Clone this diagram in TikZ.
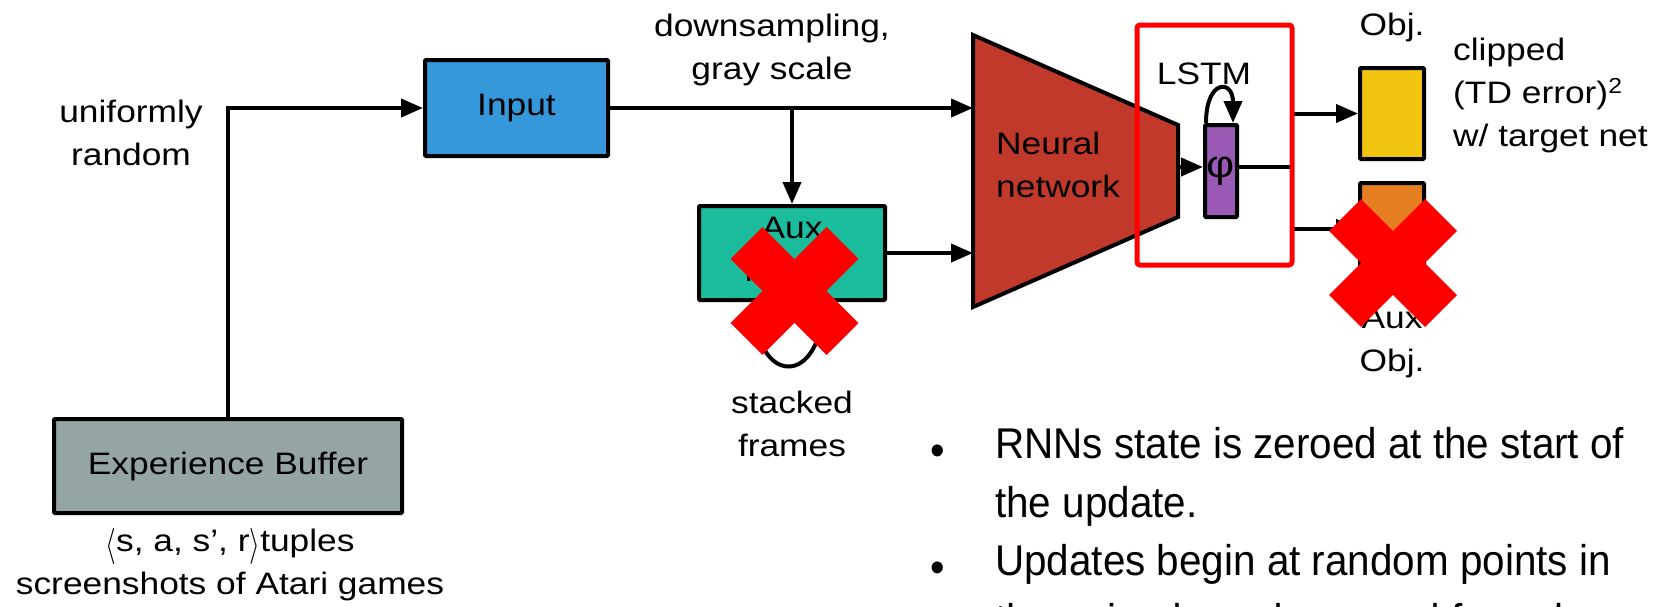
\documentclass[tikz,border=0pt]{standalone}
\usepackage{fontspec}
\usepackage{graphicx}
\setmainfont{Liberation Sans}
\newfontfamily\labelfont{Liberation Sans}[FakeStretch=1.14]
\newfontfamily\bulletfont{Liberation Sans}[FakeStretch=0.94]
\usetikzlibrary{arrows.meta}
\definecolor{cinput}{HTML}{3498DB}
\definecolor{caux}{HTML}{1ABC9C}
\definecolor{cbuf}{HTML}{95A5A6}
\definecolor{cnn}{HTML}{C0392B}
\definecolor{cphi}{HTML}{9B59B6}
\definecolor{cyellow}{HTML}{F1C40F}
\definecolor{corange}{HTML}{E67E22}
\definecolor{cxred}{HTML}{FF0000}
\newcommand{\tallangle}[1]{\raisebox{-0.12em}{\scalebox{1.1}[1.45]{$#1$}}}
\begin{document}
\begin{tikzpicture}[x=1pt,y=-1pt,
  lbl/.style={font=\labelfont\fontsize{31}{43}\selectfont, inner sep=0pt, align=center},
  blt/.style={font=\bulletfont\fontsize{43}{58}\selectfont, inner sep=0pt},
  dotb/.style={font=\bulletfont\fontsize{44}{44}\selectfont, inner sep=0pt},
  box/.style={draw=black, line width=4pt, inner sep=0pt, rounded corners=1pt,
    font=\labelfont\fontsize{31}{43}\selectfont, align=center},
  conn/.style={line width=4pt, -{Triangle[length=22pt,width=18pt]}},
  plainline/.style={line width=4pt},
  cross/.style={draw=cxred, line width=45pt},
  redframe/.style={draw=cxred, line width=5pt, rounded corners=3pt, inner sep=0pt}]
\useasboundingbox (0,0) rectangle (1663,606);

% boxes
\node[box, fill=cinput, minimum width=183pt, minimum height=96pt] (input) at (516.5,108) {Input};
\node[box, fill=caux, minimum width=186pt, minimum height=94pt] (aux) at (792,253) {Aux\\inputs};
\node[box, fill=cbuf, minimum width=348pt, minimum height=94pt] (buffer) at (228,466) {Experience Buffer};

% neural network trapezoid
\draw[line width=4pt, fill=cnn, line join=miter] (973,35) -- (1178,125) -- (1178,217) -- (973,307) -- cycle;
\coordinate (nnin1) at (973,108);
\coordinate (nnin2) at (973,253);
\coordinate (nnout) at (1178,167);
\node[lbl, align=left, anchor=west] (nnlabel) at (996,165) {Neural\\network};

\node[box, fill=cphi, minimum width=32pt, minimum height=92pt, font=\labelfont\fontsize{38}{38}\selectfont] (phi) at (1221,171) {φ};
\node[box, fill=cyellow, minimum width=64pt, minimum height=91pt] (obj) at (1392,113.5) {};
\node[box, fill=corange, minimum width=64pt, minimum height=91pt] (auxobj) at (1392,228.5) {};

% connectors
\draw[conn] (buffer.north) |- (input.west);
\draw[conn] (input.east) -- (nnin1);
\coordinate (split) at (aux.north |- input.east);
\draw[conn] (split) -- (aux.north);
\draw[conn] (aux.east) -- (nnin2);
\draw[conn] (nnout) -- (phi.west |- nnout);
\coordinate (junc) at (1292,167);
\draw[plainline] (phi.east |- nnout) -- (junc);
\draw[conn] (junc) |- (obj.west);
\draw[conn] (junc) |- (auxobj.west);
\draw[conn] ([xshift=3pt]phi.north west) .. controls +(0,-44) and +(0,-44) .. ([xshift=-6pt]phi.north east);
\draw[plainline] ([xshift=-38pt]aux.south) .. controls +(0,86) and +(0,86) .. ([xshift=31pt]aux.south);

% LSTM frame
\node[redframe, minimum width=155pt, minimum height=240pt] (lstm) at (1214.5,145) {};

% labels
\node[lbl] (unif) at (131,133) {uniformly\\random};
\node[lbl] (down) at (772,50) {downsampling,\\gray scale};
\node[lbl] (lstmlabel) at (1204,74) {LSTM};
\node[lbl, anchor=base] (objlabel) at (1392,35) {Obj.};
\node[lbl, align=left, anchor=west] (clip) at (1453,95) {clipped\\(TD error)\textsuperscript{2}\\w/ target net};
\node[lbl] (auxobjlabel) at (1392,343) {Aux\\Obj.};
\node[lbl] (stacked) at (792,424) {stacked\\frames};
\node[lbl] (tuples) at (230,565) {\tallangle{\langle}s, a, s’, r\tallangle{\rangle}tuples\\screenshots of Atari games};

% crosses
\draw[cross] (794.5,291) +(-48,-48) -- +(48,48);
\draw[cross] (794.5,291) +(-48,48) -- +(48,-48);
\draw[cross] (1393,263) +(-48,-48) -- +(48,48);
\draw[cross] (1393,263) +(-48,48) -- +(48,-48);

% bullets
\node[dotb, anchor=base] (d1) at (938,465) {•};
\node[blt, anchor=base west] (b1a) at (995,458) {RNNs state is zeroed at the start of};
\node[blt, anchor=base west] (b1b) at (995,517) {the update.};
\node[dotb, anchor=base] (d2) at (938,582) {•};
\node[blt, anchor=base west] (b2a) at (995,575) {Updates begin at random points in};
\node[blt, anchor=base west] (b2b) at (995,634) {the episode and proceed for only};
\end{tikzpicture}
\end{document}
